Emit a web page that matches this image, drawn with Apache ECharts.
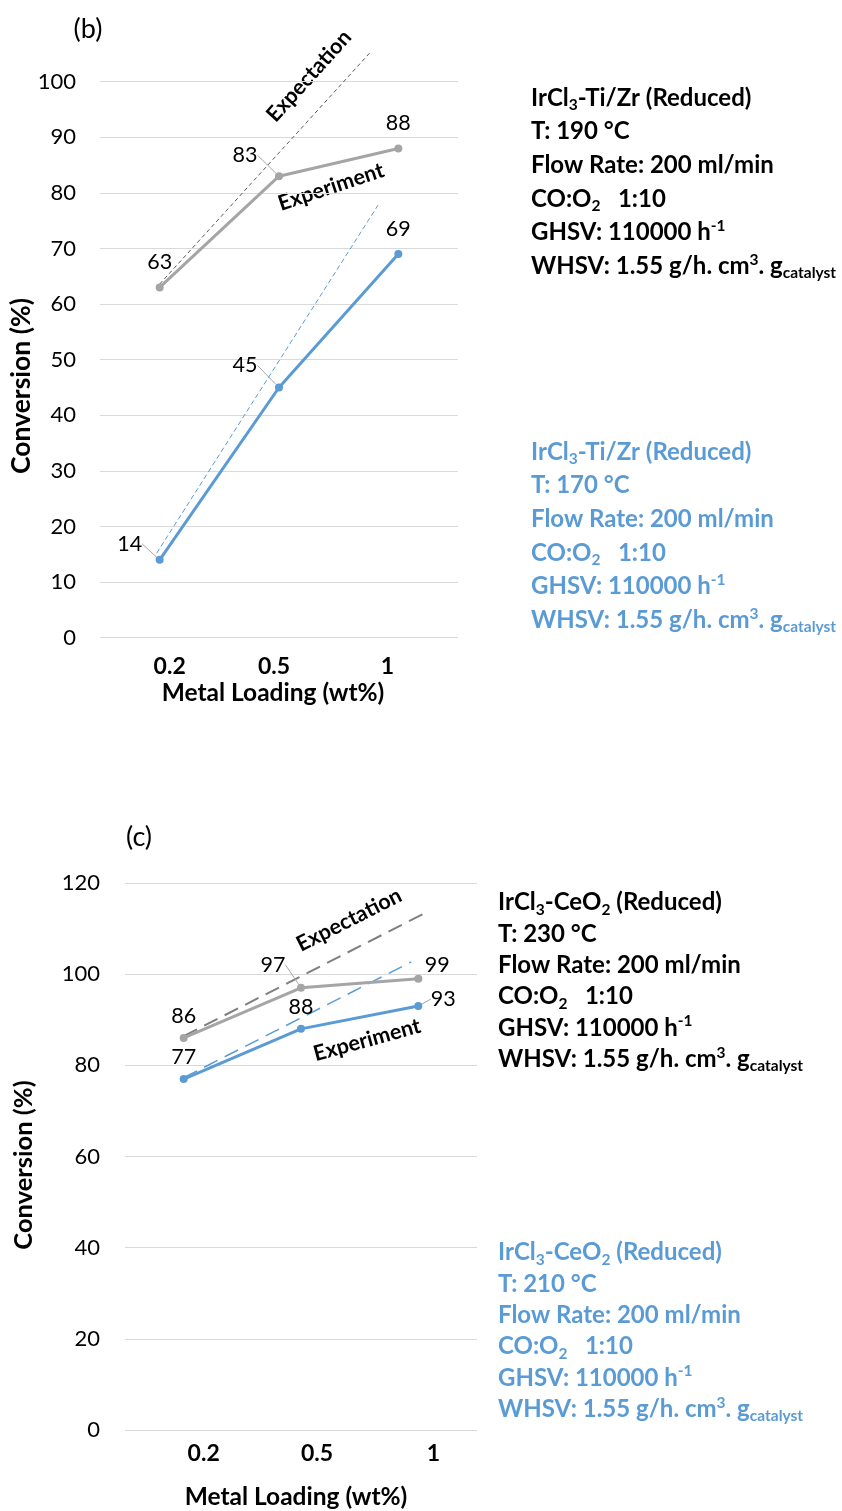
<!DOCTYPE html>
<html><head><meta charset="utf-8">
<script src="https://cdn.jsdelivr.net/npm/echarts@6/dist/echarts.min.js"></script>
<style>html,body{margin:0;padding:0;background:#fff}#c{width:842px;height:1511px}</style>
</head><body><div id="c"></div>
<script>
// ---------- data ----------
const categories = ['0.2', '0.5', '1'];
// panel (b)
const bGrayExp = [63, 83, 88];       // IrCl3-Ti/Zr 190 °C experiment
const bBlueExp = [14, 45, 69];       // IrCl3-Ti/Zr 170 °C experiment
const bGrayExpect = [[0, 63.6], [1.77, 105.4]];   // expectation (category index, %)
const bBlueExpect = [[-0.025, 15.2], [1.83, 77.8]];
// panel (c)
const cGrayExp = [86, 97, 99];       // IrCl3-CeO2 230 °C experiment
const cBlueExp = [77, 88, 93];       // IrCl3-CeO2 210 °C experiment
const cGrayExpect = [[0, 86.4], [2.04, 113.2]];
const cBlueExpect = [[0, 77.3], [1.94, 102.7]];
// condition texts
const bGrayCond = ['IrCl{sub|3}-Ti/Zr (Reduced)', 'T: 190 °C', 'Flow Rate: 200 ml/min', 'CO:O{sub|2}   1:10', 'GHSV: 110000 h{sup|-1}', 'WHSV: 1.55 g/h. cm{sup|3}. g{sub|catalyst}'];
const bBlueCond = ['IrCl{sub|3}-Ti/Zr (Reduced)', 'T: 170 °C', 'Flow Rate: 200 ml/min', 'CO:O{sub|2}   1:10', 'GHSV: 110000 h{sup|-1}', 'WHSV: 1.55 g/h. cm{sup|3}. g{sub|catalyst}'];
const cGrayCond = ['IrCl{sub|3}-CeO{sub|2} (Reduced)', 'T: 230 °C', 'Flow Rate: 200 ml/min', 'CO:O{sub|2}   1:10', 'GHSV: 110000 h{sup|-1}', 'WHSV: 1.55 g/h. cm{sup|3}. g{sub|catalyst}'];
const cBlueCond = ['IrCl{sub|3}-CeO{sub|2} (Reduced)', 'T: 210 °C', 'Flow Rate: 200 ml/min', 'CO:O{sub|2}   1:10', 'GHSV: 110000 h{sup|-1}', 'WHSV: 1.55 g/h. cm{sup|3}. g{sub|catalyst}'];

// ---------- styles ----------
const FONT = 'Lato, "Open Sans", sans-serif';
const GRAY = '#A5A5A5', BLUE = '#5B9BD5';
const labelShift = {
  0: [[0, 0], [-34, 4], [0, 0]],
  1: [[-30, 9], [-34, 3], [0, 0]],
  4: [[0, 0], [-28, -1], [19, 8]],
  5: [[0, 0], [0, 0], [25, 15]]
};
const leader = {0: [1], 1: [0, 1], 4: [1], 5: [2]};

function expSeries(idx, data, color, xi, yi, dist) {
  return {
    type: 'line', xAxisIndex: xi, yAxisIndex: yi,
    data: data.map((v, i) => ({
      value: v,
      labelLine: {show: (leader[idx] || []).includes(i), lineStyle: {color: '#A6A6A6', width: 1}}
    })),
    symbol: 'circle', symbolSize: 8, z: 5,
    lineStyle: {color: color, width: 3},
    itemStyle: {color: color},
    label: {show: true, position: 'top', distance: dist, fontFamily: FONT, fontSize: 21.5, color: '#000'},
    labelLayout: function (p) {
      const s = labelShift[idx] && labelShift[idx][p.dataIndex];
      return s ? {dx: s[0], dy: s[1]} : {};
    },
    silent: true
  };
}
function dashSeries(data, color, xi, yi, width, dash) {
  return {
    type: 'line', xAxisIndex: xi, yAxisIndex: yi, data: data, symbol: 'none', clip: false,
    lineStyle: {color: color, width: width, type: dash}, z: 3, silent: true
  };
}
function catAxis(gi, margin, shifts, nameGap, namePad) {
  const rich = {};
  shifts.forEach((s, i) => {
    rich['c' + i] = {fontFamily: FONT, fontSize: 23, fontWeight: 'bold', color: '#000',
      padding: s >= 0 ? [0, 0, 0, 2 * s] : [0, -2 * s, 0, 0]};
  });
  return {
    type: 'category', gridIndex: gi, data: categories, boundaryGap: true,
    axisLine: {show: false}, axisTick: {show: false}, splitLine: {show: false},
    axisLabel: {margin: margin, formatter: (v, i) => '{c' + i + '|' + v + '}', rich: rich},
    name: 'Metal Loading (wt%)', nameLocation: 'middle', nameGap: nameGap,
    nameTextStyle: {fontFamily: FONT, fontSize: 24.5, fontWeight: 'bold', color: '#000', padding: namePad}
  };
}
function valAxis(gi, max, interval, margin) {
  return {
    type: 'value', gridIndex: gi, min: 0, max: max, interval: interval,
    axisLine: {show: false}, axisTick: {show: false},
    axisLabel: {margin: margin, fontFamily: FONT, fontSize: 22, color: '#000'},
    splitLine: {lineStyle: {color: '#D9D9D9', width: 1}}
  };
}
function condText(lines, x, y, color, lh) {
  const s = {fontFamily: FONT, fontWeight: 'bold', fill: color};
  return {
    type: 'text', x: x, y: y, silent: true,
    style: {
      text: lines.join('\n'), fontFamily: FONT, fontSize: 24, fontWeight: 'bold', fill: color,
      lineHeight: lh, align: 'left', verticalAlign: 'top',
      rich: {
        sub: Object.assign({}, s, {fontSize: 15.5, lineHeight: 15, padding: [14, 0, 0, 0]}),
        sup: Object.assign({}, s, {fontSize: 15.5, lineHeight: 15, padding: [0, 0, 13, 0]})
      }
    }
  };
}
function annot(text, x, y, deg, size) {
  return {type: 'text', x: x, y: y, rotation: deg * Math.PI / 180, silent: true,
    style: {text: text, fontFamily: FONT, fontSize: size, fontWeight: 'bold', fill: '#000', align: 'center', verticalAlign: 'middle'}};
}
function yName(x, y, size) {
  return {type: 'text', x: x, y: y, rotation: Math.PI / 2, silent: true,
    style: {text: 'Conversion (%)', fontFamily: FONT, fontSize: size, fontWeight: 'bold', fill: '#000', align: 'center', verticalAlign: 'middle'}};
}

const chart = echarts.init(document.getElementById('c'), null, {renderer: 'canvas'});
chart.setOption({
  animation: false,
  backgroundColor: '#fff',
  grid: [
    {left: 100, top: 81.7, width: 358, height: 556},
    {left: 125, top: 883, width: 352, height: 548}
  ],
  xAxis: [
    catAxis(0, 17, [10, -5, -11], 43, [0, 12, 0, 0]),
    {type: 'value', gridIndex: 0, min: -0.5, max: 2.5, show: false},
    catAxis(1, 12, [20, 16, 15], 55, [0, 10, 0, 0]),
    {type: 'value', gridIndex: 1, min: -0.5, max: 2.5, show: false}
  ],
  yAxis: [valAxis(0, 100, 10, 24), valAxis(1, 120, 20, 25)],
  series: [
    expSeries(0, bGrayExp, GRAY, 0, 0, 10),
    expSeries(1, bBlueExp, BLUE, 0, 0, 10),
    dashSeries(bGrayExpect, '#595959', 1, 0, 1, [4, 3]),
    dashSeries(bBlueExpect, BLUE, 1, 0, 1, [5, 3]),
    expSeries(4, cGrayExp, GRAY, 2, 1, 7),
    expSeries(5, cBlueExp, BLUE, 2, 1, 7),
    dashSeries(cGrayExpect, '#7F7F7F', 3, 1, 2, [15, 8]),
    dashSeries(cBlueExpect, BLUE, 3, 1, 1.5, [15, 8])
  ],
  graphic: [
    {type: 'text', x: 88, y: 29, silent: true, style: {text: '(b)', fontFamily: FONT, fontSize: 27, fill: '#000', align: 'center', verticalAlign: 'middle'}},
    {type: 'text', x: 139, y: 837, silent: true, style: {text: '(c)', fontFamily: FONT, fontSize: 27, fill: '#000', align: 'center', verticalAlign: 'middle'}},
    yName(21, 386, 26.5),
    yName(24, 1165, 25.5),
    annot('Expectation', 309, 76, 48, 21.5),
    annot('Experiment', 331, 187, 18.4, 21.5),
    annot('Expectation', 349, 920, 26.8, 21.5),
    annot('Experiment', 367, 1040, 15.4, 21.5),
    condText(bGrayCond, 531, 81, '#000', 33.7),
    condText(bBlueCond, 531, 435, BLUE, 33.7),
    condText(cGrayCond, 498, 887, '#000', 31.3),
    condText(cBlueCond, 498, 1237, BLUE, 31.3)
  ]
});
</script></body></html>
